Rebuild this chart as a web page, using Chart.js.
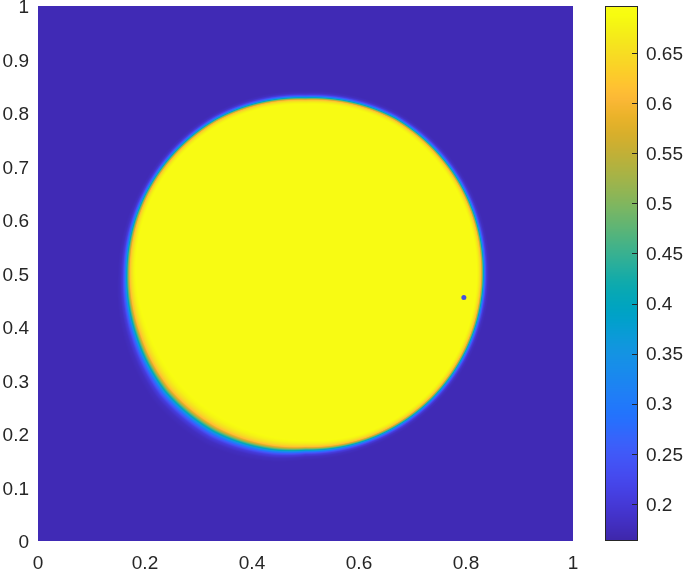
<!DOCTYPE html>
<html>
<head>
<meta charset="utf-8">
<script src="https://cdn.jsdelivr.net/npm/chart.js@4.4.1/dist/chart.umd.min.js"></script>
<style>
html,body{margin:0;padding:0;background:#ffffff;}
#wrap{width:684px;height:573px;position:relative;}
</style>
</head>
<body>
<div id="wrap"><canvas id="c" width="684" height="573"></canvas></div>
<script>
// ---- data ----
const xTicks = [0, 0.2, 0.4, 0.6, 0.8, 1];
const yTicks = [0, 0.1, 0.2, 0.3, 0.4, 0.5, 0.6, 0.7, 0.8, 0.9, 1];
const colorbarTicks = [0.2, 0.25, 0.3, 0.35, 0.4, 0.45, 0.5, 0.55, 0.6, 0.65];
const colorLimits = [0.163, 0.697];

// disc boundary (polar around the centre), read at several angles
const discCenter = [0.5, 0.5];
const boundaryAngleDeg = [0, 30, 60, 90, 120, 150, 180, 200, 220, 240, 260, 270, 290, 315, 340, 360];
const boundaryRadius   = [0.331, 0.333, 0.334, 0.327, 0.332, 0.332, 0.332, 0.334, 0.339, 0.338, 0.332, 0.328, 0.330, 0.331, 0.331, 0.331];
const boundaryWidth    = [1.0, 1.0, 1.0, 1.0, 1.0, 1.05, 1.35, 1.9, 2.3, 2.3, 1.8, 1.45, 1.15, 1.0, 1.0, 1.0];

// value across the edge (distance from boundary, data units, outward positive)
const profileOffset = [-0.012, -0.008, -0.005, -0.003, -0.0015, 0.000, 0.0015, 0.003, 0.005, 0.007, 0.010, 0.014];
const profileValue  = [0.694, 0.676, 0.648, 0.612, 0.560, 0.480, 0.400, 0.320, 0.250, 0.205, 0.180, 0.172];

const markerPoints = [{x: 0.796, y: 0.455}];

// parula colormap
const PARULA = [
[0.2422,0.1504,0.6603],[0.2503,0.1650,0.7076],[0.2575,0.1818,0.7511],[0.2637,0.1986,0.7915],
[0.2681,0.2167,0.8295],[0.2709,0.2358,0.8643],[0.2720,0.2560,0.8949],[0.2712,0.2771,0.9208],
[0.2682,0.2983,0.9415],[0.2627,0.3203,0.9571],[0.2534,0.3426,0.9689],[0.2391,0.3650,0.9776],
[0.2163,0.3878,0.9838],[0.1846,0.4106,0.9886],[0.1562,0.4326,0.9914],[0.1357,0.4535,0.9894],
[0.1280,0.4727,0.9804],[0.1247,0.4910,0.9680],[0.1159,0.5091,0.9545],[0.1035,0.5266,0.9407],
[0.0941,0.5440,0.9260],[0.0867,0.5604,0.9090],[0.0793,0.5758,0.8895],[0.0639,0.5907,0.8689],
[0.0447,0.6040,0.8471],[0.0236,0.6160,0.8233],[0.0039,0.6279,0.7970],[0.0003,0.6376,0.7698],
[0.0065,0.6469,0.7426],[0.0233,0.6554,0.7153],[0.0463,0.6635,0.6866],[0.0839,0.6714,0.6566],
[0.1339,0.6791,0.6256],[0.1820,0.6869,0.5927],[0.2274,0.6943,0.5591],[0.2736,0.7001,0.5250],
[0.3227,0.7052,0.4904],[0.3730,0.7088,0.4573],[0.4209,0.7109,0.4247],[0.4691,0.7123,0.3924],
[0.5171,0.7118,0.3612],[0.5631,0.7092,0.3317],[0.6073,0.7061,0.3044],[0.6511,0.7018,0.2760],
[0.6928,0.6974,0.2505],[0.7328,0.6927,0.2282],[0.7733,0.6876,0.2070],[0.8123,0.6856,0.1863],
[0.8482,0.6869,0.1703],[0.8849,0.6930,0.1632],[0.9195,0.7010,0.1665],[0.9535,0.7097,0.1847],
[0.9839,0.7206,0.2104],[0.9960,0.7455,0.2030],[0.9948,0.7731,0.1830],[0.9887,0.8000,0.1634],
[0.9804,0.8273,0.1504],[0.9713,0.8545,0.1390],[0.9649,0.8818,0.1245],[0.9611,0.9093,0.1081],
[0.9598,0.9367,0.0906],[0.9628,0.9637,0.0739],[0.9696,0.9894,0.0603],[0.9769,0.9839,0.0805]
];

function interp(xs, ys, v) {
  if (v <= xs[0]) return ys[0];
  for (let k = 1; k < xs.length; k++) {
    if (v <= xs[k]) {
      const t = (v - xs[k-1]) / (xs[k] - xs[k-1]);
      return ys[k-1] + t * (ys[k] - ys[k-1]);
    }
  }
  return ys[ys.length - 1];
}
function colorFor(v) {
  let t = (v - colorLimits[0]) / (colorLimits[1] - colorLimits[0]);
  t = Math.min(1, Math.max(0, t));
  const f = t * (PARULA.length - 1);
  const k = Math.min(PARULA.length - 2, Math.floor(f));
  const u = f - k;
  const a = PARULA[k], b = PARULA[k+1];
  return [0,1,2].map(c => Math.round(255 * (a[c] + u * (b[c] - a[c]))));
}
function fieldValue(vx, vy) {
  const dx = vx - discCenter[0], dy = vy - discCenter[1];
  const r = Math.hypot(dx, dy);
  let ang = Math.atan2(dy, dx) * 180 / Math.PI;
  if (ang < 0) ang += 360;
  const R = interp(boundaryAngleDeg, boundaryRadius, ang);
  const W = interp(boundaryAngleDeg, boundaryWidth, ang);
  return interp(profileOffset, profileValue, (r - R) / W);
}

const FONT = {family: "'Liberation Sans', Arial, Helvetica, sans-serif", size: 19};
const TXT = '#262626';
const fmt = v => String(Math.round(v * 1000) / 1000);

const heatmapPlugin = {
  id: 'heatmap',
  beforeDatasetsDraw(chart) {
    const {ctx, chartArea: a, scales} = chart;
    const xs = scales.x, ys = scales.y;
    const w = Math.round(a.right - a.left), h = Math.round(a.bottom - a.top);
    const off = document.createElement('canvas');
    off.width = w; off.height = h;
    const octx = off.getContext('2d');
    const img = octx.createImageData(w, h);
    const xv = [];
    for (let i = 0; i < w; i++) xv.push(xs.getValueForPixel(a.left + i + 0.5));
    for (let j = 0; j < h; j++) {
      const vy = ys.getValueForPixel(a.top + j + 0.5);
      for (let i = 0; i < w; i++) {
        const c = colorFor(fieldValue(xv[i], vy));
        const p = (j * w + i) * 4;
        img.data[p] = c[0]; img.data[p+1] = c[1]; img.data[p+2] = c[2]; img.data[p+3] = 255;
      }
    }
    octx.putImageData(img, 0, 0);
    ctx.save();
    ctx.drawImage(off, Math.round(a.left), Math.round(a.top));
    ctx.restore();
  },
  afterDraw(chart) {
    const {ctx} = chart;
    const cb = chart.scales.cb;
    const left = cb.left + 32, width = 33;
    const top = Math.round(cb.getPixelForValue(colorLimits[1]));
    const bottom = Math.round(cb.getPixelForValue(colorLimits[0]));
    ctx.save();
    for (let py = top; py < bottom; py++) {
      const c = colorFor(cb.getValueForPixel(py + 0.5));
      ctx.fillStyle = 'rgb(' + c.join(',') + ')';
      ctx.fillRect(left, py, width, 1);
    }
    ctx.strokeStyle = TXT;
    ctx.lineWidth = 1;
    ctx.strokeRect(left + 0.5, top + 0.5, width - 1, bottom - top - 1);
    ctx.beginPath();
    colorbarTicks.forEach(t => {
      const py = Math.round(cb.getPixelForValue(t)) + 0.5;
      ctx.moveTo(left + width - 6, py);
      ctx.lineTo(left + width - 1, py);
    });
    ctx.stroke();
    ctx.restore();
  }
};

new Chart(document.getElementById('c'), {
  type: 'scatter',
  data: {
    datasets: [{
      data: markerPoints,
      pointRadius: 2.5,
      pointHoverRadius: 2.5,
      backgroundColor: '#4652dc',
      borderWidth: 0
    }]
  },
  options: {
    responsive: false,
    animation: false,
    devicePixelRatio: 1,
    layout: {padding: {top: 6, left: 0, right: 0, bottom: 0}},
    plugins: {legend: {display: false}, tooltip: {enabled: false}},
    scales: {
      x: {
        type: 'linear', position: 'bottom', min: 0, max: 1,
        grid: {display: false, drawTicks: false}, border: {display: false},
        ticks: {font: FONT, color: TXT, padding: 11, maxRotation: 0, autoSkip: false, callback: fmt},
        afterBuildTicks: s => { s.ticks = xTicks.map(v => ({value: v})); },
        afterFit: s => { s.height = 32; s.paddingLeft = 0; s.paddingRight = 0; }
      },
      y: {
        type: 'linear', position: 'left', min: 0, max: 1,
        grid: {display: false, drawTicks: false}, border: {display: false},
        ticks: {font: FONT, color: TXT, padding: 9, labelOffset: 2, autoSkip: false, callback: fmt},
        afterBuildTicks: s => { s.ticks = yTicks.map(v => ({value: v})); },
        afterFit: s => { s.width = 38; s.paddingTop = 0; s.paddingBottom = 0; }
      },
      cb: {
        type: 'linear', position: 'right', min: colorLimits[0], max: colorLimits[1],
        grid: {display: false, drawTicks: false}, border: {display: false},
        ticks: {font: FONT, color: TXT, padding: 73, labelOffset: 1.5, autoSkip: false, callback: fmt},
        afterBuildTicks: s => { s.ticks = colorbarTicks.map(v => ({value: v})); },
        afterFit: s => { s.width = 111; s.paddingTop = 0; s.paddingBottom = 0; }
      }
    }
  },
  plugins: [heatmapPlugin]
});
</script>
</body>
</html>
